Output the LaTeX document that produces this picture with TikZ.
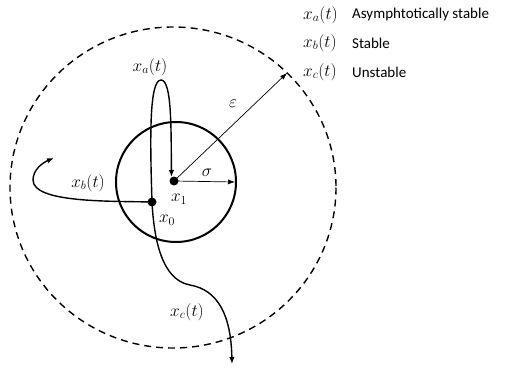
\documentclass[tikz,border=0pt]{standalone}
\usepackage{fontspec}
\setmainfont{Carlito}
\usetikzlibrary{arrows.meta}
\tikzset{
  traj/.style={line width=1.4pt, -{Latex[length=7pt,width=5.5pt]}},
  thinarrow/.style={line width=0.7pt, -{Latex[length=7pt,width=5pt]}},
  dot/.style={circle, fill=black, inner sep=0pt, minimum size=9pt},
  lbl/.style={font=\fontsize{17}{19}\selectfont, inner sep=0pt},
  legtext/.style={font=\fontsize{15}{17}\selectfont, inner sep=0pt, anchor=west}
}
\begin{document}
\begin{tikzpicture}[x=1pt,y=-1pt]
\useasboundingbox (0,0) rectangle (518,369);
% circles
\draw[line width=1.4pt, dash pattern=on 7pt off 5pt] (173,187.5) ellipse [x radius=163, y radius=160.5];
\draw[line width=2pt] (176,182) circle [radius=60];
% dots
\node[dot] (x1) at (174,181) {};
\node[dot] (x0) at (152,202) {};
% radii
\coordinate (epsend) at (287,73);
\coordinate (sigend) at (235,182);
\draw[thinarrow] (x1.center) -- (epsend);
\draw[thinarrow] (x1.center) -- (sigend);
\node[lbl] (eps) at (233,104) {$\varepsilon$};
\node[lbl] (sig) at (207,173) {$\sigma$};
% trajectories
\coordinate (xatip) at (171.5,177);
\draw[traj] (x0.center) .. controls (150,140) and (149,80) .. (161,80) .. controls (172,80) and (171,130) .. (xatip);
\coordinate (xbtip) at (54,158);
\draw[traj] (x0.center) .. controls (110,201) and (33,203) .. (33,180) .. controls (33,170) and (42,163) .. (xbtip);
\coordinate (xctip) at (232,364);
\draw[traj] (x0.center) .. controls (154,240) and (162,280) .. (190,285) .. controls (218,290) and (231,315) .. (xctip);
% labels
\node[lbl] (la) at (150,67) {$x_a(t)$};
\node[lbl] (lb) at (88,183) {$x_b(t)$};
\node[lbl] (lc) at (187,312) {$x_c(t)$};
\node[lbl] (l1) at (179,199) {$x_1$};
\node[lbl] (l0) at (167,220) {$x_0$};
% legend
\node[lbl, anchor=west] (ga) at (303,15) {$x_a(t)$};
\node[lbl, anchor=west] (gb) at (303,43) {$x_b(t)$};
\node[lbl, anchor=west] (gc) at (303,72) {$x_c(t)$};
\node[legtext] (ta) at (352,15) {Asymphtotically stable};
\node[legtext] (tb) at (352,43) {Stable};
\node[legtext] (tc) at (352,72) {Unstable};
\end{tikzpicture}
\end{document}
